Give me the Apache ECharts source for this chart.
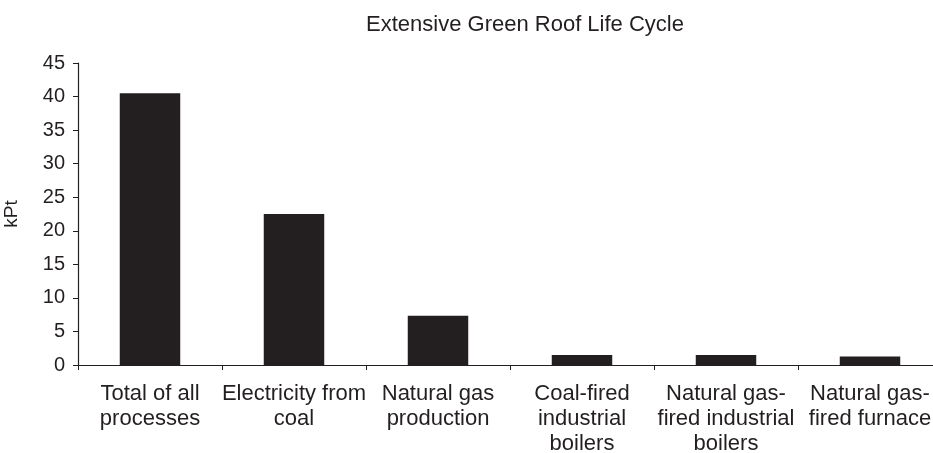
<!DOCTYPE html>
<html>
<head>
<meta charset="utf-8">
<script src="https://cdn.jsdelivr.net/npm/echarts@6/dist/echarts.min.js"></script>
<style>
  html, body { margin: 0; padding: 0; background: #fff; }
  #chart { width: 933px; height: 453px; }
</style>
</head>
<body>
<div id="chart"></div>
<script>
// 数据
var categories = [
  'Total of all\nprocesses',
  'Electricity from\ncoal',
  'Natural gas\nproduction',
  'Coal-fired\nindustrial\nboilers',
  'Natural gas-\nfired industrial\nboilers',
  'Natural gas-\nfired furnace'
]
var kptValues = [40.5, 22.5, 7.35, 1.5, 1.5, 1.25]
var yTicks = { min: 0, max: 45, interval: 5 }

var ink = '#231f20'
var font = 'Liberation Sans'
var myChart = echarts.init(document.getElementById('chart'))

myChart.setOption({
  animation: false,
  title: {
    text: 'Extensive Green Roof Life Cycle',
    left: 520,
    top: 9,
    textAlign: 'center',
    textStyle: { color: ink, fontSize: 22, fontWeight: 'normal', fontFamily: font }
  },
  // 右侧类目被裁切，grid 超出画布
  grid: { left: 78, top: 63, width: 864, height: 302, containLabel: false, outerBoundsMode: 'none' },
  xAxis: {
    type: 'category',
    data: categories,
    axisLine: { lineStyle: { color: ink, width: 1.2 } },
    axisTick: { show: true, length: 5, lineStyle: { color: ink } },
    axisLabel: {
      color: ink, fontSize: 22, lineHeight: 25, margin: 16,
      fontFamily: font, interval: 0
    }
  },
  yAxis: {
    type: 'value',
    min: yTicks.min,
    max: yTicks.max,
    interval: yTicks.interval,
    name: 'kPt',
    nameLocation: 'middle',
    nameGap: 57,
    nameTextStyle: { color: ink, fontSize: 19, fontFamily: font },
    axisLine: { show: true, lineStyle: { color: ink, width: 1.2 } },
    axisTick: { show: true, length: 5, lineStyle: { color: ink } },
    axisLabel: { color: ink, fontSize: 20, margin: 13, fontFamily: font },
    splitLine: { show: false }
  },
  series: [{
    type: 'bar',
    data: kptValues,
    barWidth: '42%',
    itemStyle: { color: ink }
  }]
})
</script>
</body>
</html>
